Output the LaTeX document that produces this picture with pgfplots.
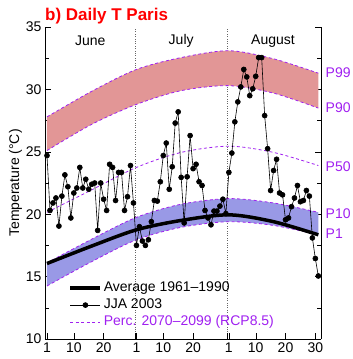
\documentclass[border=0pt]{standalone}
\usepackage{fontspec}
\setmainfont{Liberation Sans}
\usepackage{pgfplots}
\usepackage{pgfplotstable}
\pgfplotsset{compat=1.18}
\usepgfplotslibrary{fillbetween}

\definecolor{purp}{HTML}{A020F0}
\definecolor{redband}{RGB}{226,150,150}
\definecolor{blueband}{RGB}{153,153,230}

% percentile curves and 1961-1990 average, by day (1 = 1 June)
\pgfplotstableread{
day p1    p10   p50   p90   p99   avg
1   14.25 16.10 20.15 25.10 27.80 16.05
16  16.20 18.00 21.95 27.20 29.85 17.45
31  17.95 19.75 23.75 28.80 31.60 18.75
46  18.95 20.80 24.95 29.90 32.55 19.50
62  19.40 21.25 25.45 30.30 33.10 19.95
77  19.10 20.90 24.95 29.70 32.45 19.40
92  18.35 20.15 23.90 28.50 31.30 18.35
}\clim

% daily temperature, summer 2003
\pgfplotstableread{
day t
1 24.7
2 20.3
3 20.9
4 21.3
5 19.05
6 21.45
7 23.15
8 22.2
9 19.7
10 21.7
11 22.1
12 23.75
13 22.1
14 22.8
15 22.0
16 22.4
17 22.5
18 18.7
19 22.5
20 21.2
21 20.3
22 24.0
23 23.75
24 21.1
25 23.35
26 23.35
27 20.3
28 21.4
29 23.9
30 20.9
31 17.5
32 19.0
33 17.85
34 17.5
35 17.95
36 19.4
37 21.1
38 21.05
39 22.6
40 24.7
41 25.7
42 22.0
43 23.8
44 27.3
45 28.2
46 22.95
47 19.3
48 23.0
49 26.3
50 23.65
51 24.0
52 22.6
53 22.3
54 20.3
55 19.7
56 19.15
57 20.25
58 20.25
59 20.65
60 21.2
61 20.05
62 23.35
63 24.9
64 27.4
65 29.0
66 30.2
67 31.6
68 31.0
69 29.5
70 30.05
71 31.05
72 32.55
73 32.55
74 27.9
75 25.25
76 21.9
77 23.5
78 24.4
79 21.7
80 21.55
81 19.55
82 19.7
83 20.6
84 21.3
85 22.3
86 21.0
87 21.1
88 21.9
89 21.45
90 18.1
91 16.45
92 15.05
}\jja

\begin{document}
\begin{tikzpicture}
\begin{axis}[name=ax,
  scale only axis, width=276pt, height=312pt,
  xmin=0.33, xmax=92.9, ymin=10, ymax=35,
  axis x line=bottom, axis y line=box, axis line style={-, black, thin},
  set layers, clip=false,
  xtick={1,10,20,31,40,50,62,71,81,91},
  xticklabels={1,10,20,1,10,20,1,10,20,30},
  extra x ticks={30.5,61.5}, extra x tick labels={},
  extra x tick style={grid=major, major grid style={dotted, black!60, thin}},
  ytick={10,15,...,35}, minor ytick={12.5,17.5,...,32.5},
  tick align=inside, major tick length=6pt, minor tick length=4pt,
  tick style={black, thin},
  /pgf/number format/assume math mode=true,
  ylabel={Temperature (°C)},
  ylabel style={at={(axis description cs:0,0.5)}, anchor=center, yshift=29.5pt, xshift=0pt},
  tick label style={font=\fontsize{14}{16}\selectfont},
  label style={font=\fontsize{14}{16}\selectfont},
  legend style={at={(rel axis cs:0.085,0.192)}, anchor=north west, draw=none, fill=none,
    font=\fontsize{14}{16}\selectfont, inner sep=0pt, row sep=0pt,
    nodes={inner sep=1.6pt, text height=10.5pt, text depth=3.5pt},
    /tikz/every even column/.append style={column sep=6pt}},
  legend cell align=left,
  legend image code/.code={\draw[mark repeat=2,mark phase=2,#1] plot coordinates {(0pt,0pt) (15pt,0pt) (30pt,0pt)};},
]
% upper band P90-P99
\addplot[name path=p99, purp, line width=0.8pt, dash pattern=on 3pt off 2.5pt, smooth, forget plot] table[x=day,y=p99]{\clim};
\addplot[name path=p90, purp, line width=0.8pt, dash pattern=on 3pt off 2.5pt, smooth, forget plot] table[x=day,y=p90]{\clim};
\addplot[fill=redband, draw=none, forget plot] fill between[of=p99 and p90];
% lower band P1-P10
\addplot[name path=p10, purp, line width=0.8pt, dash pattern=on 3pt off 2.5pt, smooth, forget plot] table[x=day,y=p10]{\clim};
\addplot[name path=p1, purp, line width=0.8pt, dash pattern=on 3pt off 2.5pt, smooth, forget plot] table[x=day,y=p1]{\clim};
\addplot[fill=blueband, draw=none, forget plot] fill between[of=p10 and p1];
% median
\addplot[purp, line width=0.8pt, dash pattern=on 3pt off 2.5pt, smooth, forget plot] table[x=day,y=p50]{\clim};

\addplot[black, line width=3.5pt, smooth] table[x=day,y=avg]{\clim};
\addlegendentry{Average 1961–1990}
\addplot[black, line width=0.6pt, mark=*, mark size=2.5pt] table[x=day,y=t]{\jja};
\addlegendentry{JJA 2003}
\addlegendimage{purp, line width=0.8pt, dash pattern=on 3pt off 2.5pt}
\addlegendentry[text=purp]{Perc. 2070–2099 (RCP8.5)}

\node[font=\fontsize{14}{16}\selectfont] at (axis cs:15.5,33.9) {June};
\node[font=\fontsize{14}{16}\selectfont] at (axis cs:46,33.9) {July};
\node[font=\fontsize{14}{16}\selectfont] at (axis cs:76.8,33.9) {August};

\node[anchor=west, inner sep=0pt, text=purp, font=\fontsize{14}{16}\selectfont] at ([xshift=4.5pt]axis cs:92.9,31.3) {P99};
\node[anchor=west, inner sep=0pt, text=purp, font=\fontsize{14}{16}\selectfont] at ([xshift=4.5pt]axis cs:92.9,28.5) {P90};
\node[anchor=west, inner sep=0pt, text=purp, font=\fontsize{14}{16}\selectfont] at ([xshift=4.5pt]axis cs:92.9,23.8) {P50};
\node[anchor=west, inner sep=0pt, text=purp, font=\fontsize{14}{16}\selectfont] at ([xshift=4.5pt]axis cs:92.9,20.07) {P10};
\node[anchor=west, inner sep=0pt, text=purp, font=\fontsize{14}{16}\selectfont] at ([xshift=4.5pt]axis cs:92.9,18.4) {P1};

\node[anchor=base west, inner sep=0pt, text=red, font=\bfseries\fontsize{17}{20}\selectfont] at ([yshift=6.3pt]rel axis cs:0,1) {b) Daily T Paris};
\end{axis}
\pgfresetboundingbox
\path[use as bounding box] ([xshift=-45pt,yshift=-20pt]ax.south west) rectangle ([xshift=31pt,yshift=27pt]ax.north east);
\end{tikzpicture}
\end{document}
